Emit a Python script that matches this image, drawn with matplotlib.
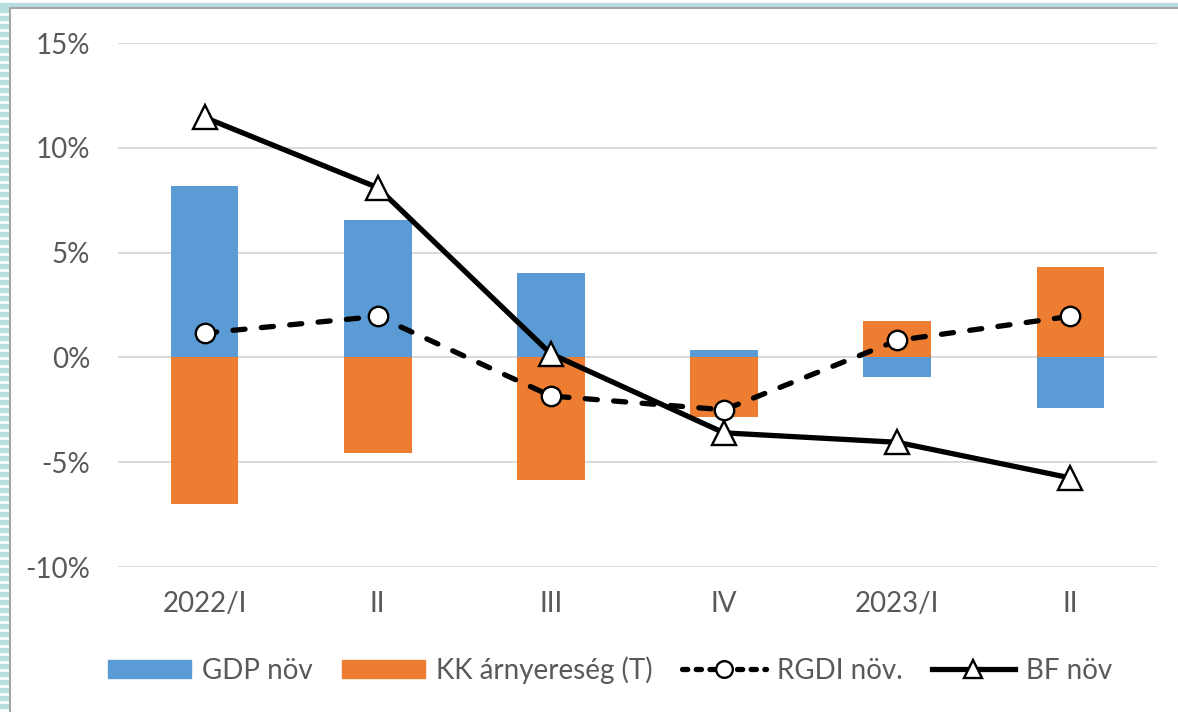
import matplotlib
matplotlib.use("Agg")
import matplotlib.pyplot as plt
from matplotlib.patches import Rectangle
from matplotlib.lines import Line2D
from matplotlib.ticker import FuncFormatter
import numpy as np

categories = ["2022/I", "II", "III", "IV", "2023/I", "II"]
gdp = [8.2, 6.55, 4.05, 0.37, -0.94, -2.43]
kk = [-7.0, -4.58, -5.87, -2.86, 1.74, 4.29]
rgdi = [1.16, 1.96, -1.84, -2.5, 0.81, 1.96]
bf = [11.45, 8.1, 0.17, -3.6, -4.05, -5.75]
yticks = [-10, -5, 0, 5, 10, 15]

plt.rcParams['font.family'] = ['Lato', 'DejaVu Sans']
W, H = 1178, 712
fig = plt.figure(figsize=(W / 100, H / 100), dpi=100)
ax = fig.add_axes([118 / W, 1 - 567 / H, (1157 - 118) / W, (567 - 43) / H])

x = np.arange(len(categories))
bw = 0.39
blue = "#5B9BD5"
orange = "#ED7D31"
LW = 3.8
ax.bar(x, gdp, width=bw, color=blue, zorder=2, label="GDP növ")
ax.bar(x, kk, width=bw, color=orange, zorder=2, label="KK árnyereség (T)")
ax.plot(x, rgdi, color="black", lw=LW, dashes=(2.3, 3.1), dash_capstyle="round",
        marker="o", ms=14, mfc="white", mec="black", mew=1.7, zorder=4, label="RGDI növ.")
ax.plot(x, bf, color="black", lw=LW, solid_capstyle="round",
        marker="^", ms=17, mfc="white", mec="black", mew=1.7, zorder=5, label="BF növ")

ax.set_xlim(-0.5, len(categories) - 0.5)
ax.set_ylim(-10, 15)
ax.set_yticks(yticks)
ax.yaxis.set_major_formatter(FuncFormatter(lambda v, p: f"{int(v)}%"))
ax.set_xticks(x)
ax.set_xticklabels(categories)
ax.grid(axis="y", color="#D9D9D9", lw=1.4, zorder=0)
ax.set_axisbelow(True)
for s in ax.spines.values():
    s.set_visible(False)
ax.tick_params(axis="both", length=0, labelsize=20, colors="#595959")
ax.tick_params(axis="y", pad=20)
ax.tick_params(axis="x", pad=17)

handles = [
    Rectangle((0, 0), 1, 1, color=blue),
    Rectangle((0, 0), 1, 1, color=orange),
    Line2D([], [], color="black", lw=LW, dashes=(1.0, 1.6), dash_capstyle="round",
           marker="o", ms=12, mfc="white", mec="black", mew=1.7),
    Line2D([], [], color="black", lw=LW, marker="^", ms=13, mfc="white", mec="black", mew=1.7),
]
labels = ["GDP növ", "KK árnyereség (T)", "RGDI növ.", "BF növ"]
leg = fig.legend(handles, labels, loc="center", bbox_to_anchor=(610 / W, 1 - 670 / H), ncol=4,
                 frameon=False, fontsize=20, handlelength=3.0, handleheight=0.6,
                 handletextpad=0.4, columnspacing=1.05, labelcolor="#595959")

# chart border decorations
fig.patches.append(Rectangle((0, 1 - 7 / H), 1, 4 / H, transform=fig.transFigure,
                             color="#B7DDE0", zorder=0))
for yy in range(8, H, 8):
    fig.patches.append(Rectangle((0, 1 - (yy + 4) / H), 8 / W, 4 / H, transform=fig.transFigure,
                                 color="#B7DDE0", zorder=0))
fig.add_artist(Line2D([9.5 / W, 9.5 / W], [0, 1 - 7.5 / H], transform=fig.transFigure,
                      color="#A6A6A6", lw=1.5))
fig.add_artist(Line2D([9.5 / W, 1], [1 - 7.5 / H, 1 - 7.5 / H], transform=fig.transFigure,
                      color="#A6A6A6", lw=1.5))

fig.savefig("out.png", dpi=100)
